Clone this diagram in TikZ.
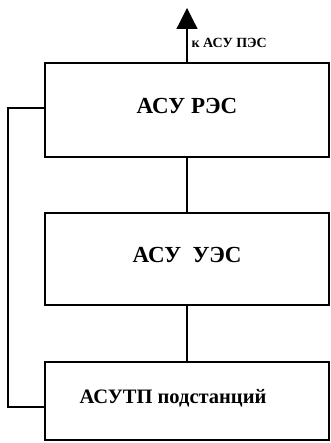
\documentclass[tikz,border=0pt]{standalone}
\usepackage{fontspec}
\setmainfont{Liberation Serif}
\usetikzlibrary{arrows.meta,positioning}
\tikzset{blok/.style={draw,minimum width=284pt,inner sep=0pt,text depth=9pt,
  font=\bfseries\fontsize{23}{27}\selectfont}}

\begin{document}
\begin{tikzpicture}[x=1pt,y=-1pt,line width=1.2pt]
  \useasboundingbox (0,0) rectangle (330,443);
  \def\xc{187}   % centre line of the boxes
  \def\xl{8}     % left return line
  \node[blok,minimum height=94pt] (res) at (\xc,110) {АСУ РЭС};
  \node[blok,minimum height=92pt] (ues) at (\xc,259) {АСУ~~УЭС};
  \node[blok,minimum height=78pt,font=\bfseries\fontsize{20.5}{24}\selectfont] (tp) at (\xc,401) {АСУТП подстанций\hspace*{28pt}};
  \coordinate (pes) at (\xc,8);
  \draw[-{Triangle[width=21pt,length=21pt]}] (res.north) -- (pes);
  \node[anchor=west,inner sep=0pt,font=\bfseries\fontsize{14}{16}\selectfont] (lpes) at (\xc+4,43) {к АСУ ПЭС};
  \foreach \a/\b in {res/ues,ues/tp} { \draw (\a) -- (\b); }
  \draw ([yshift=2pt]res.west) -- (\xl,108) |- ([yshift=-6pt]tp.west);
\end{tikzpicture}
\end{document}
